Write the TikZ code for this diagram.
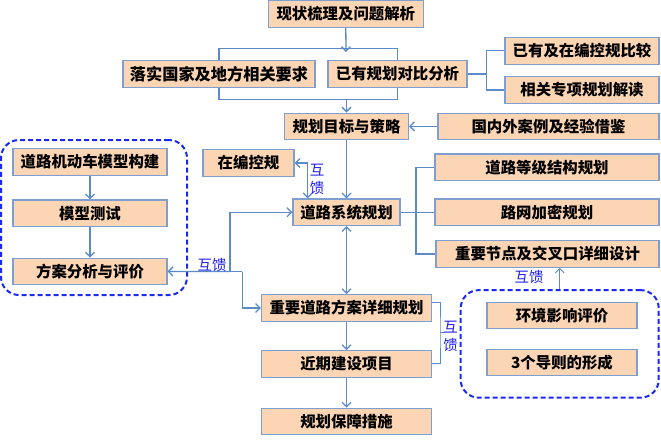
\documentclass[tikz,border=0pt]{standalone}
\usepackage{fontspec}
\newfontfamily\cjk{Noto Sans CJK SC}
\usetikzlibrary{arrows.meta}
\definecolor{boxfill}{HTML}{FCD5B4}
\definecolor{boxline}{HTML}{7F9FD0}
\definecolor{conncol}{HTML}{5A8BC8}
\definecolor{dashcol}{HTML}{1A2AF0}
\definecolor{fbcol}{HTML}{2020F0}
\begin{document}
\begin{tikzpicture}[x=1pt,y=-1pt,
  box/.style={draw=boxline,fill=boxfill,line width=1.1pt,minimum height=26.5pt,inner sep=0pt,
    font=\cjk\bfseries\fontsize{15.4}{16}\selectfont,text=black},
  conn/.style={draw=conncol,line width=1.3pt},
  thin/.style={draw=conncol,line width=0.9pt},
  dbox/.style={draw=dashcol,line width=2pt,dash pattern=on 5pt off 3pt,rounded corners=18pt,inner sep=0pt},
  fb/.style={text=fbcol,font=\cjk\fontsize{14.5}{14.5}\selectfont,inner sep=0pt},
  >={Straight Barb[length=4.5pt,width=9pt]}]
\useasboundingbox (0,0) rectangle (661,440);
% dashed groups
\node[dbox,minimum width=186pt,minimum height=155pt] (ldash) at (94,217.5) {};
\node[dbox,minimum width=198pt,minimum height=107.5pt] (rdash) at (559.7,343.9) {};
% boxes
\node[box,minimum width=155pt] (a1) at (345.8,14) {现状梳理及问题解析};
\node[box,minimum width=192pt,font=\cjk\bfseries\fontsize{16.2}{17}\selectfont] (a2) at (219,74) {落实国家及地方相关要求};
\node[box,minimum width=139pt] (a3) at (397.5,74) {已有规划对比分析};
\node[box,minimum width=154pt] (a4) at (582,50.8) {已有及在编控规比较};
\node[box,minimum width=154pt] (a5) at (582,90) {相关专项规划解读};
\node[box,minimum width=124pt] (b1) at (346.5,126.3) {规划目标与策略};
\node[box,minimum width=221pt] (b2) at (548.5,126.3) {国内外案例及经验借鉴};
\node[box,minimum width=91pt] (c0) at (248.5,163) {在编控规};
\node[box,minimum width=107pt] (c1) at (346.5,212.2) {道路系统规划};
\node[box,minimum width=224pt] (r1) at (547,167.2) {道路等级结构规划};
\node[box,minimum width=224pt] (r2) at (547,212.2) {路网加密规划};
\node[box,minimum width=223pt] (r3) at (547.5,254) {重要节点及交叉口详细设计};
\node[box,minimum width=154pt] (l1) at (90,162) {道路机动车模型构建};
\node[box,minimum width=154pt] (l2) at (90,213.2) {模型测试};
\node[box,minimum width=154pt] (l3) at (90,271.4) {方案分析与评价};
\node[box,minimum width=170pt] (d1) at (346.5,308) {重要道路方案详细规划};
\node[box,minimum width=170pt] (d2) at (346.5,364) {近期建设项目};
\node[box,minimum width=170pt] (d3) at (346.5,421.5) {规划保障措施};
\node[box,minimum width=150pt] (e1) at (562,315.3) {环境影响评价};
\node[box,minimum width=150pt] (e2) at (562,362.3) {3个导则的形成};
% coordinates
\coordinate (tipA) at (346,52);
\coordinate (m1) at (346,48.3);
\coordinate (m2) at (346.5,99.3);
\coordinate (br1) at (486.5,70);
\coordinate (fb1) at (307.7,163);
\coordinate (br2) at (416,212);
\coordinate (j1) at (230,271.5);
\coordinate (j2) at (242.4,271.5);
\coordinate (brd) at (440,332);
\coordinate (brdt) at (445,332);
% connectors
\draw[conn,->] (a1.south) -- (tipA);
\draw[conn] (a2.north) -- (a2.north |- m1) -- (a3.north |- m1) -- (a3.north);
\draw[conn] (a2.south) -- (a2.south |- m2) -- (a3.south |- m2) -- (a3.south);
\draw[conn,->] (m2) -- (b1.north);
\draw[conn] (a3.east) -- (a3.east -| br1);
\draw[conn] (a4.west) -- (a4.west -| br1) -- (a5.west -| br1) -- (a5.west);
\draw[conn,->] (b2.west) -- (b1.east);
\draw[conn,->] (b1.south) -- (c1.north);
\draw[conn,<->] (c0.east) -- (fb1) -- (fb1 |- c1.north);
\draw[conn] (c1.east) -- (r2.west);
\draw[conn] (r1.west) -- (r1.west -| br2) -- (r3.west -| br2) -- (r3.west);
\draw[conn,<->] (c1.south) -- (d1.north);
\draw[conn,->] (j1) |- (c1.west);
\draw[conn,->] (j1) -- (l3.east);
\draw[conn] (j1) -- (j2);
\draw[conn,->] (j2) |- (d1.west);
\draw[conn,->] (l1.south) -- (l2.north);
\draw[conn,->] (l2.south) -- (l3.north);
\draw[conn,->] (d1.south) -- (d2.north);
\draw[conn,->] (d2.south) -- (d3.north);
\draw[thin] ([yshift=6pt]d1.east) -| (brd) |- ([yshift=1pt]d2.east);
\draw[thin] (brd) -- (brdt);
\draw[thin,->] (rdash.north) -- (rdash.north |- r3.south);
% feedback labels
\node[fb] (t1) at (317,170) {互};
\node[fb] (t2) at (317,188) {馈};
\node[fb] (t3) at (212,265) {互馈};
\node[fb] (t4) at (450.5,327) {互};
\node[fb] (t5) at (450.5,345) {馈};
\node[fb] (t6) at (529,277) {互馈};
\end{tikzpicture}
\end{document}
